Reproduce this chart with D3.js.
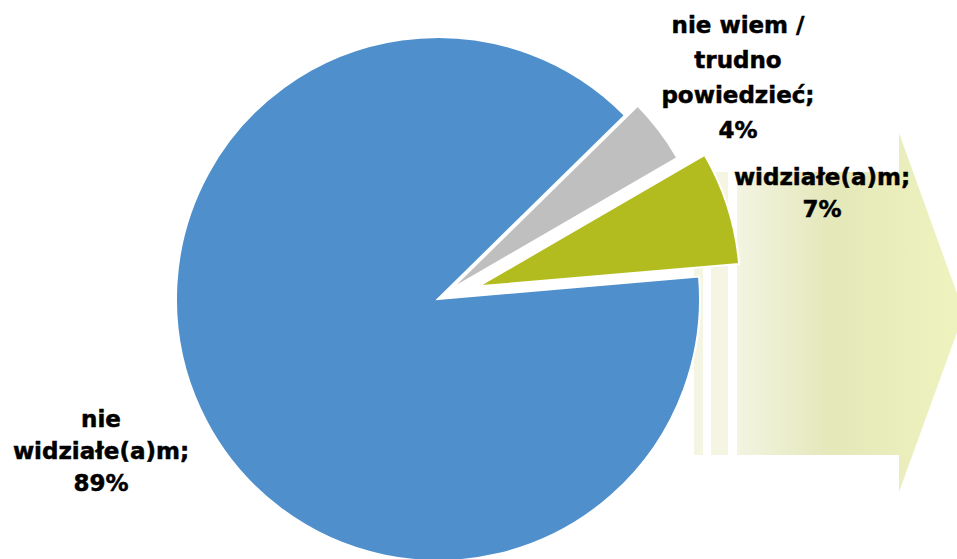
<!DOCTYPE html>
<html>
<head>
<meta charset="utf-8">
<script src="https://cdn.jsdelivr.net/npm/d3@7/dist/d3.min.js"></script>
<style>
  html, body { margin: 0; padding: 0; background: #fff; overflow: hidden; }
  svg { display: block; }
</style>
</head>
<body>
<svg id="chart" width="957" height="559"></svg>
<script>
// Survey answers
const categories = ["widziałe(a)m", "nie widziałe(a)m", "nie wiem / trudno powiedzieć"];
const values = [7, 89, 4];
const labelLines = [
  ["widziałe(a)m;", "7%"],
  ["nie", "widziałe(a)m;", "89%"],
  ["nie wiem /", "trudno", "powiedzieć;", "4%"]
];
const colors = ["#B3BC1E", "#4F8FCC", "#BFBFBF"];

// Layout
const W = 957, H = 559;
const cx = 438, cy = 299, R = 262;
const explode = [42, 0, 16];
const labelAnchor = [
  { x: 822, y: 185, lh: 32 },
  { x: 101, y: 427, lh: 32 },
  { x: 738, y: 33, lh: 35 }
];
const deg = Math.PI / 180;

const svg = d3.select("#chart");
const defs = svg.append("defs");

// Highlight arrow behind the pie
const grad = defs.append("linearGradient")
  .attr("id", "arrowGrad")
  .attr("gradientUnits", "userSpaceOnUse")
  .attr("x1", 737).attr("y1", 0).attr("x2", 964).attr("y2", 0);
grad.append("stop").attr("offset", "0").attr("stop-color", "#F3F4E2");
grad.append("stop").attr("offset", "0.4").attr("stop-color", "#E4E8BA");
grad.append("stop").attr("offset", "1").attr("stop-color", "#EEF3BE");

const arrow = svg.append("g");
[[694, 703], [711, 728]].forEach(([a, b]) => {
  arrow.append("rect").attr("x", a).attr("y", 172).attr("width", b - a).attr("height", 283)
    .attr("fill", "#F4F5E3");
});
arrow.append("path")
  .attr("d", d3.line()([[737, 172], [899, 172], [899, 133], [964, 313], [899, 492], [899, 455], [737, 455]]) + "Z")
  .attr("fill", "url(#arrowGrad)");

// Pie
const pie = d3.pie().sort(null).value(d => d)
  .startAngle(59.9 * deg).endAngle(59.9 * deg + 2 * Math.PI);
const arcs = pie(values);
const arc = d3.arc().innerRadius(0).outerRadius(R);

svg.append("g").selectAll("path")
  .data(arcs)
  .join("path")
  .attr("transform", (d, i) => {
    const m = (d.startAngle + d.endAngle) / 2;
    const dx = explode[i] * Math.sin(m), dy = -explode[i] * Math.cos(m);
    return `translate(${cx + dx},${cy + dy})`;
  })
  .attr("d", arc)
  .attr("fill", (d, i) => colors[i])
  .attr("stroke", "#fff")
  .attr("stroke-width", 2)
  .attr("stroke-linejoin", "miter");

// Labels
const lab = svg.append("g")
  .attr("font-family", "'DejaVu Sans', Verdana, sans-serif")
  .attr("font-weight", "bold")
  .attr("font-size", 23)
  .attr("fill", "#000")
  .attr("stroke", "#000")
  .attr("stroke-width", 0.5)
  .attr("text-anchor", "middle");

labelLines.forEach((lines, i) => {
  const a = labelAnchor[i];
  const t = lab.append("text").attr("x", a.x).attr("y", a.y);
  lines.forEach((ln, k) => {
    t.append("tspan").attr("x", a.x).attr("y", a.y + k * a.lh).text(ln);
  });
});
</script>
</body>
</html>
